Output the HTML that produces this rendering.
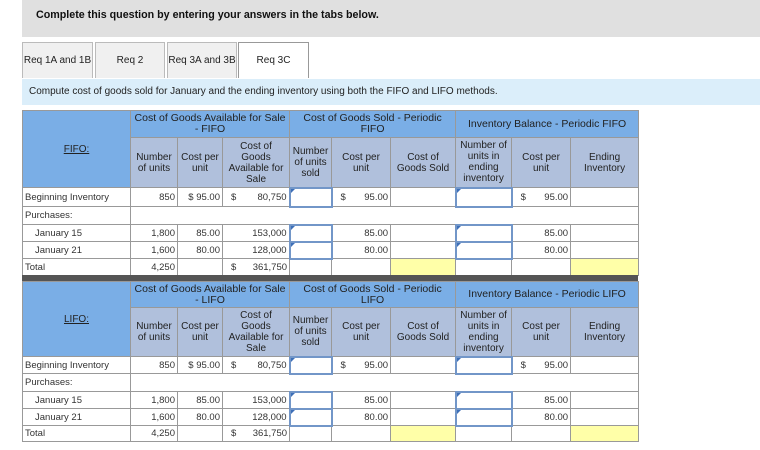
<!DOCTYPE html>
<html><head><meta charset="utf-8"><style>
body{margin:0;width:760px;height:450px;background:#fff;font-family:"Liberation Sans",Arial,sans-serif;position:relative;overflow:hidden}
.band{position:absolute;left:22px;right:0;top:0;height:37px;background:#e0e0e0;font-weight:bold;font-size:10.7px;line-height:30px;padding-left:14px;box-sizing:border-box;color:#111}
.tab{position:absolute;top:42px;height:36px;border:1px solid #bbb;border-bottom:none;background:#f0f0f0;font-size:10px;line-height:36px;text-align:center;box-sizing:border-box;color:#222}
.tab.on{background:#fff;border-color:#999}
.inst{position:absolute;left:22px;right:0;top:79px;height:26px;background:#dbeefa;font-size:10px;line-height:26px;padding-left:7px;color:#222}
table{position:absolute;left:22px;border-collapse:collapse;table-layout:fixed;font-size:9.5px;color:#333}
td{border:1px solid #999;padding:0 2px;white-space:nowrap;overflow:hidden}
.h1{background:#7aaee6;text-align:center;color:#222;font-size:10.5px;line-height:11px}
.h2{background:#b0c0dc;text-align:center;color:#222;font-size:10px;line-height:11px}
.lab{background:#7aaee6;text-align:center;color:#222;text-decoration:underline;font-size:10px}
.r{text-align:right}
.in{border:2px solid #7296c8;background:#fff;position:relative}
.in::before{content:"";position:absolute;left:0;top:0;border-left:4px solid #3d6fb8;border-bottom:4px solid transparent}
.y{background:#ffffa8}
.sep{position:absolute;left:22px;width:616px;top:275px;height:6px;background:#555}
.d{float:left;padding-left:6px}
</style></head><body>
<div class="band">Complete this question by entering your answers in the tabs below.</div>
<div class="tab" style="left:22px;width:71px">Req 1A and 1B</div>
<div class="tab" style="left:95px;width:70px">Req 2</div>
<div class="tab" style="left:167px;width:70px">Req 3A and 3B</div>
<div class="tab on" style="left:238px;width:71px">Req 3C</div>
<div class="inst">Compute cost of goods sold for January and the ending inventory using both the FIFO and LIFO methods.</div>

<table style="top:110px;width:616px">
<colgroup><col style="width:108px"><col style="width:47px"><col style="width:45px"><col style="width:67px"><col style="width:42px"><col style="width:59px"><col style="width:65px"><col style="width:56px"><col style="width:59px"><col style="width:68px"></colgroup>
<tr style="height:27px"><td class="lab" rowspan="2">FIFO:</td><td class="h1" colspan="3">Cost of Goods Available for Sale<br>- FIFO</td><td class="h1" colspan="3">Cost of Goods Sold - Periodic<br>FIFO</td><td class="h1" colspan="3">Inventory Balance - Periodic FIFO</td></tr>
<tr style="height:50px"><td class="h2">Number<br>of units</td><td class="h2">Cost per<br>unit</td><td class="h2">Cost of<br>Goods<br>Available for<br>Sale</td><td class="h2">Number<br>of units<br>sold</td><td class="h2">Cost per<br>unit</td><td class="h2">Cost of<br>Goods Sold</td><td class="h2">Number of<br>units in<br>ending<br>inventory</td><td class="h2">Cost per<br>unit</td><td class="h2">Ending<br>Inventory</td></tr>
<tr style="height:19px"><td>Beginning Inventory</td><td class="r">850</td><td class="r">$ 95.00</td><td class="r"><span class="d">$</span>80,750</td><td class="in"></td><td class="r"><span class="d">$</span>95.00</td><td></td><td class="in"></td><td class="r"><span class="d">$</span>95.00</td><td></td></tr>
<tr style="height:18px"><td>Purchases:</td><td colspan="9"></td></tr>
<tr style="height:17px"><td style="padding-left:12px">January 15</td><td class="r">1,800</td><td class="r">85.00</td><td class="r">153,000</td><td class="in"></td><td class="r">85.00</td><td></td><td class="in"></td><td class="r">85.00</td><td></td></tr>
<tr style="height:17px"><td style="padding-left:12px">January 21</td><td class="r">1,600</td><td class="r">80.00</td><td class="r">128,000</td><td class="in"></td><td class="r">80.00</td><td></td><td class="in"></td><td class="r">80.00</td><td></td></tr>
<tr style="height:17px"><td>Total</td><td class="r">4,250</td><td></td><td class="r"><span class="d">$</span>361,750</td><td></td><td></td><td class="y"></td><td></td><td></td><td class="y"></td></tr>
</table>
<div class="sep"></div>
<table style="top:281px;width:616px">
<colgroup><col style="width:108px"><col style="width:47px"><col style="width:45px"><col style="width:67px"><col style="width:42px"><col style="width:59px"><col style="width:65px"><col style="width:56px"><col style="width:59px"><col style="width:68px"></colgroup>
<tr style="height:26px"><td class="lab" rowspan="2">LIFO:</td><td class="h1" colspan="3">Cost of Goods Available for Sale<br>- LIFO</td><td class="h1" colspan="3">Cost of Goods Sold - Periodic<br>LIFO</td><td class="h1" colspan="3">Inventory Balance - Periodic LIFO</td></tr>
<tr style="height:49px"><td class="h2">Number<br>of units</td><td class="h2">Cost per<br>unit</td><td class="h2">Cost of<br>Goods<br>Available for<br>Sale</td><td class="h2">Number<br>of units<br>sold</td><td class="h2">Cost per<br>unit</td><td class="h2">Cost of<br>Goods Sold</td><td class="h2">Number of<br>units in<br>ending<br>inventory</td><td class="h2">Cost per<br>unit</td><td class="h2">Ending<br>Inventory</td></tr>
<tr style="height:17px"><td>Beginning Inventory</td><td class="r">850</td><td class="r">$ 95.00</td><td class="r"><span class="d">$</span>80,750</td><td class="in"></td><td class="r"><span class="d">$</span>95.00</td><td></td><td class="in"></td><td class="r"><span class="d">$</span>95.00</td><td></td></tr>
<tr style="height:18px"><td>Purchases:</td><td colspan="9"></td></tr>
<tr style="height:17px"><td style="padding-left:12px">January 15</td><td class="r">1,800</td><td class="r">85.00</td><td class="r">153,000</td><td class="in"></td><td class="r">85.00</td><td></td><td class="in"></td><td class="r">85.00</td><td></td></tr>
<tr style="height:17px"><td style="padding-left:12px">January 21</td><td class="r">1,600</td><td class="r">80.00</td><td class="r">128,000</td><td class="in"></td><td class="r">80.00</td><td></td><td class="in"></td><td class="r">80.00</td><td></td></tr>
<tr style="height:16px"><td>Total</td><td class="r">4,250</td><td></td><td class="r"><span class="d">$</span>361,750</td><td></td><td></td><td class="y"></td><td></td><td></td><td class="y"></td></tr>
</table>
</body></html>
